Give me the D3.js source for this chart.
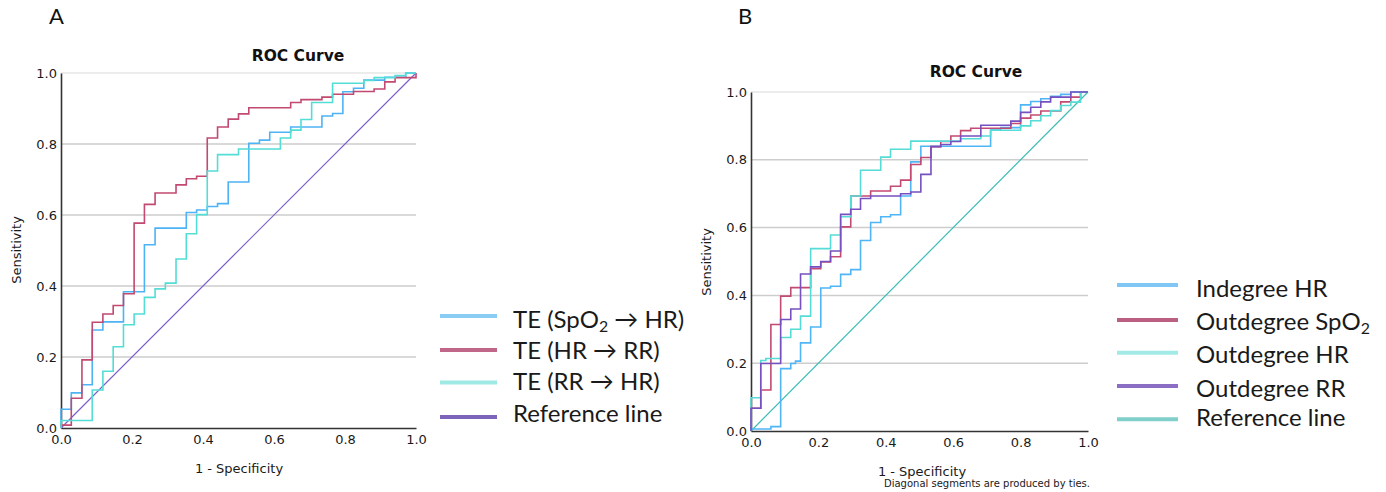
<!DOCTYPE html>
<html>
<head>
<meta charset="utf-8">
<script src="https://cdn.jsdelivr.net/npm/d3@7"></script>
<style>
  html, body { margin: 0; padding: 0; background: #fff; }
  svg { display: block; }
</style>
</head>
<body>
<svg id="chart" width="1386" height="492"></svg>
<script>
// ---------------- DATA ----------------
const tickValues = [0, 0.2, 0.4, 0.6, 0.8, 1.0];
const panelLabels = ["A", "B"];
const chartTitle = "ROC Curve";
const xAxisTitle = "1 - Specificity";
const yAxisTitle = "Sensitivity";
const footnoteB = "Diagonal segments are produced by ties.";

// Panel A series
const aNames = ["TE (SpO2 → HR)", "TE (HR → RR)", "TE (RR → HR)", "Reference line"];

const aSpO2HR_fpr = [0,0,0.029,0.059,0.088,0.118,0.176,0.235,0.265,0.353,0.382,0.412,0.441,0.471,0.529,0.559,0.588,0.647,0.735,0.765,0.794,0.824,0.853,0.912,0.971,1];
const aSpO2HR_tpr = [0,0.053,0.099,0.122,0.276,0.299,0.384,0.516,0.563,0.607,0.614,0.624,0.632,0.693,0.802,0.811,0.833,0.848,0.879,0.886,0.947,0.957,0.980,0.988,1.0,1.0];

const aHRRR_fpr = [0,0,0.029,0.059,0.088,0.118,0.147,0.176,0.206,0.235,0.265,0.324,0.353,0.382,0.412,0.441,0.471,0.5,0.529,0.647,0.676,0.735,0.765,0.824,0.882,0.912,0.941,1];
const aHRRR_tpr = [0,0.008,0.084,0.192,0.298,0.321,0.345,0.378,0.577,0.630,0.662,0.685,0.702,0.709,0.817,0.848,0.870,0.885,0.902,0.917,0.925,0.932,0.940,0.948,0.955,0.975,0.987,1.0];

const aRRHR_fpr = [0,0,0.088,0.118,0.147,0.176,0.206,0.235,0.265,0.294,0.324,0.353,0.382,0.412,0.441,0.5,0.618,0.647,0.676,0.706,0.765,0.853,0.882,0.941,0.971,1];
const aRRHR_tpr = [0,0.021,0.107,0.160,0.229,0.291,0.321,0.368,0.392,0.408,0.476,0.547,0.601,0.724,0.770,0.786,0.817,0.839,0.869,0.917,0.971,0.979,0.987,0.993,1.0,1.0];

const refLine_fpr = [0, 1];
const refLine_tpr = [0, 1];

// Panel B series
const bNames = ["Indegree HR", "Outdegree SpO2", "Outdegree HR", "Outdegree RR", "Reference line"];

const bInHR_fpr = [0,0,0.059,0.088,0.118,0.132,0.147,0.177,0.207,0.236,0.266,0.296,0.325,0.355,0.385,0.414,0.444,0.474,0.504,0.711,0.741,0.8,0.83,0.86,0.889,0.919,0.949,1];
const bInHR_tpr = [0,0.006,0.013,0.184,0.199,0.206,0.260,0.307,0.422,0.427,0.462,0.476,0.562,0.615,0.632,0.638,0.693,0.794,0.840,0.888,0.895,0.962,0.972,0.980,0.987,0.993,1.0,1.0];

const bOutSpO2_fpr = [0,0,0.029,0.059,0.088,0.118,0.177,0.207,0.236,0.266,0.296,0.355,0.414,0.444,0.474,0.504,0.534,0.563,0.593,0.622,0.652,0.771,0.8,0.83,0.86,0.919,0.949,0.978,1];
const bOutSpO2_tpr = [0,0.067,0.121,0.314,0.398,0.423,0.479,0.499,0.514,0.602,0.693,0.708,0.722,0.740,0.786,0.807,0.839,0.854,0.870,0.886,0.893,0.907,0.923,0.932,0.944,0.971,0.985,1.0,1.0];

const bOutHR_fpr = [0,0,0.029,0.044,0.088,0.118,0.147,0.177,0.236,0.266,0.296,0.325,0.385,0.414,0.474,0.622,0.682,0.711,0.8,0.83,0.86,0.889,0.919,0.949,0.978,1];
const bOutHR_tpr = [0,0.098,0.208,0.214,0.276,0.300,0.339,0.538,0.578,0.632,0.693,0.769,0.808,0.831,0.855,0.862,0.870,0.887,0.900,0.915,0.930,0.945,0.960,0.970,1.0,1.0];

const bOutRR_fpr = [0,0,0.029,0.088,0.118,0.147,0.177,0.207,0.236,0.266,0.296,0.325,0.355,0.444,0.474,0.504,0.534,0.563,0.593,0.622,0.682,0.771,0.8,0.83,0.86,0.889,0.949,1];
const bOutRR_tpr = [0,0.067,0.199,0.329,0.360,0.463,0.484,0.500,0.531,0.639,0.654,0.686,0.693,0.700,0.705,0.757,0.839,0.845,0.854,0.870,0.902,0.914,0.940,0.955,0.971,0.985,1.0,1.0];

// ---------------- STYLE / LAYOUT ----------------
const svg = d3.select("#chart");
svg.append("rect").attr("width", 1386).attr("height", 492).attr("fill", "#fff");

const panels = [
  {
    label: panelLabels[0], labelPos: [49, 24],
    x0: 61, x1: 416, yTop: 73, yBot: 428,
    titlePos: [298, 61], xTitlePos: [239, 473], yTitlePos: [21, 250],
    footnote: null,
    series: [
      { name: aNames[0], fpr: aSpO2HR_fpr, tpr: aSpO2HR_tpr, color: "#4db3f5", legendColor: "#7cc7f3", step: true },
      { name: aNames[1], fpr: aHRRR_fpr, tpr: aHRRR_tpr, color: "#c2496f", legendColor: "#b9557c", step: true },
      { name: aNames[2], fpr: aRRHR_fpr, tpr: aRRHR_tpr, color: "#52ddd5", legendColor: "#95e7e2", step: true },
      { name: aNames[3], fpr: refLine_fpr, tpr: refLine_tpr, color: "#7d5fca", legendColor: "#6d53b3", step: false, width: 1.2 }
    ],
    legend: { lineX0: 440, lineX1: 497, textX: 513, lineY: [316, 350, 382.5, 417], textY: [327.5, 358.5, 390, 421.5] }
  },
  {
    label: panelLabels[1], labelPos: [738, 24],
    x0: 751, x1: 1088, yTop: 92, yBot: 431,
    titlePos: [976, 77], xTitlePos: [922, 476], yTitlePos: [711, 262],
    footnote: { text: footnoteB, x: 1090, y: 487 },
    series: [
      { name: bNames[0], fpr: bInHR_fpr, tpr: bInHR_tpr, color: "#4fb5f7", legendColor: "#72c1f5", step: true },
      { name: bNames[1], fpr: bOutSpO2_fpr, tpr: bOutSpO2_tpr, color: "#c34a72", legendColor: "#b24c74", step: true },
      { name: bNames[2], fpr: bOutHR_fpr, tpr: bOutHR_tpr, color: "#55dcd6", legendColor: "#98e8e3", step: true },
      { name: bNames[3], fpr: bOutRR_fpr, tpr: bOutRR_tpr, color: "#7650c0", legendColor: "#7e5dbe", step: true },
      { name: bNames[4], fpr: refLine_fpr, tpr: refLine_tpr, color: "#3dbdb6", legendColor: "#72cac5", step: false, width: 1.2 }
    ],
    legend: { lineX0: 1117, lineX1: 1178, textX: 1196, lineY: [285, 320, 352.7, 386, 419.3], textY: [297, 330, 363, 397, 425.5] }
  }
];

const axisFont = "'DejaVu Sans', sans-serif";
const legendFont = "Lato, 'Open Sans', sans-serif";

function addLabelText(sel, name) {
  // render "SpO2" with subscript 2
  const idx = name.indexOf("SpO2");
  if (idx < 0) { sel.text(name); return; }
  const before = name.slice(0, idx) + "SpO";
  const after = name.slice(idx + 4);
  sel.append("tspan").text(before);
  sel.append("tspan").attr("font-size", "0.66em").attr("dy", 4).text("2");
  if (after.length) sel.append("tspan").attr("dy", -4).text(after);
}

panels.forEach(p => {
  const g = svg.append("g");
  const x = d3.scaleLinear().domain([0, 1]).range([p.x0, p.x1]);
  const y = d3.scaleLinear().domain([0, 1]).range([p.yBot, p.yTop]);

  // panel letter
  g.append("text").attr("x", p.labelPos[0]).attr("y", p.labelPos[1])
    .attr("font-family", legendFont).attr("font-size", 22).attr("fill", "#111").text(p.label);

  // title
  g.append("text").attr("x", p.titlePos[0]).attr("y", p.titlePos[1]).attr("text-anchor", "middle")
    .attr("font-family", axisFont).attr("font-weight", "bold").attr("font-size", 15.5).attr("fill", "#111")
    .text(chartTitle);

  // gridlines
  g.append("g").selectAll("line").data(tickValues.filter(d => d > 0)).join("line")
    .attr("x1", p.x0).attr("x2", p.x1)
    .attr("y1", d => y(d)).attr("y2", d => y(d))
    .attr("stroke", d => d === 1 ? "#e6e6e6" : "#cdcdcd").attr("stroke-width", 1.5);

  // axes
  const yAxis = d3.axisLeft(y).tickValues(tickValues).tickFormat(d3.format(".1f")).tickSize(0).tickSizeOuter(0).tickPadding(4);
  const xAxis = d3.axisBottom(x).tickValues(tickValues).tickFormat(d3.format(".1f")).tickSize(0).tickSizeOuter(0).tickPadding(7);
  const gy = g.append("g").attr("transform", `translate(${p.x0},0)`).call(yAxis);
  const gx = g.append("g").attr("transform", `translate(0,${p.yBot})`).call(xAxis);
  [gx, gy].forEach(a => {
    a.selectAll("text").attr("font-family", axisFont).attr("font-size", 13).attr("fill", "#1a1a1a");
    a.select(".domain").attr("stroke", "#333").attr("stroke-width", 1.6);
  });

  // axis titles
  g.append("text").attr("x", p.xTitlePos[0]).attr("y", p.xTitlePos[1]).attr("text-anchor", "middle")
    .attr("font-family", axisFont).attr("font-size", 13).attr("fill", "#1a1a1a").text(xAxisTitle);
  g.append("text").attr("transform", `translate(${p.yTitlePos[0]},${p.yTitlePos[1]}) rotate(-90)`)
    .attr("text-anchor", "middle")
    .attr("font-family", axisFont).attr("font-size", 13).attr("fill", "#1a1a1a").text(yAxisTitle);

  if (p.footnote) {
    g.append("text").attr("x", p.footnote.x).attr("y", p.footnote.y).attr("text-anchor", "end")
      .attr("font-family", axisFont).attr("font-size", 10).attr("fill", "#1a1a1a").text(p.footnote.text);
  }

  // curves
  const stepLine = d3.line().x(d => x(d[0])).y(d => y(d[1])).curve(d3.curveStepAfter);
  const straight = d3.line().x(d => x(d[0])).y(d => y(d[1]));
  const ordered = p.series.filter(s => !s.step).concat(p.series.filter(s => s.step));
  ordered.forEach(s => {
    const pts = s.fpr.map((f, i) => [f, s.tpr[i]]);
    g.append("path").datum(pts)
      .attr("d", s.step ? stepLine : straight)
      .attr("fill", "none").attr("stroke", s.color)
      .attr("stroke-width", s.width || 1.6).attr("stroke-linejoin", "miter");
  });

  // legend
  const lg = g.append("g");
  p.series.forEach((s, i) => {
    lg.append("line")
      .attr("x1", p.legend.lineX0).attr("x2", p.legend.lineX1)
      .attr("y1", p.legend.lineY[i]).attr("y2", p.legend.lineY[i])
      .attr("stroke", s.legendColor).attr("stroke-width", 4).attr("stroke-opacity", 0.9);
    const t = lg.append("text").attr("x", p.legend.textX).attr("y", p.legend.textY[i])
      .attr("font-family", legendFont).attr("font-size", 24).attr("fill", "#1a1a1a");
    addLabelText(t, s.name);
  });
});
</script>
</body>
</html>
